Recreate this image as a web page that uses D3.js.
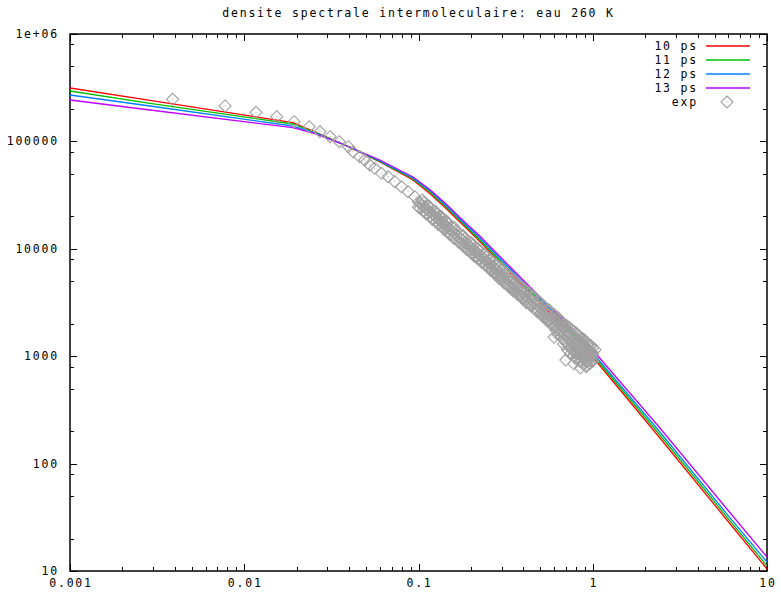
<!DOCTYPE html>
<html>
<head>
<meta charset="utf-8">
<script src="https://cdn.jsdelivr.net/npm/d3@7"></script>
<style>
  body { margin: 0; background: #fff; }
  text { font-family: 'DejaVu Sans Mono', 'Liberation Mono', monospace; font-size: 11.5px; letter-spacing: 1.8px; fill: #000; }
</style>
</head>
<body>
<div id="chart"></div>
<script>
const title = 'densite spectrale intermoleculaire: eau 260 K';

const seriesNames = ['10 ps', '11 ps', '12 ps', '13 ps'];
const seriesColors = ['#ff0000', '#00c000', '#0080ff', '#c000ff'];

// frequency grid shared by the simulated spectra
const freq = [0.001, 0.00288, 0.019, 0.0248, 0.0389, 0.0601, 0.093, 0.117, 0.146, 0.18, 0.225, 0.349, 0.546, 0.845, 1.0, 2.43, 5.89, 10];
const spec10 = [314200, 240900, 149300, 125000, 90600, 64300, 43700, 32370, 23220, 16660, 11700, 5580, 2693, 1327, 983, 173.1, 29.85, 10.44];
const spec11 = [294600, 226300, 145200, 123600, 90600, 65000, 44700, 33440, 23990, 17200, 12080, 5826, 2811, 1385, 1026, 184.6, 31.8, 11.13];
const spec12 = [270400, 213600, 139100, 122300, 90600, 65700, 45600, 34530, 24770, 17760, 12610, 6081, 2934, 1446, 1071, 196.9, 33.9, 12.13];
const spec13 = [242900, 196100, 134100, 119700, 90600, 67100, 46600, 35280, 25570, 18340, 13160, 6346, 3062, 1509, 1142, 214.5, 37.8, 13.5];

// experimental points (one row = same frequency)
const expX = [
  0.00388, 0.00776, 0.01168, 0.01535, 0.0193, 0.0236, 0.0272, 0.0311, 0.0351, 0.0396,
  0.0421, 0.046, 0.0491, 0.0525, 0.0561, 0.0613, 0.0669, 0.0731, 0.0798, 0.0871, 0.0952,
  0.100, 0.100,
  0.105, 0.105,
  0.110, 0.110,
  0.115, 0.115,
  0.120, 0.120,
  0.125, 0.125,
  0.130, 0.130,
  0.135, 0.135,
  0.140, 0.140,
  0.145, 0.145,
  0.150, 0.150,
  0.160, 0.160, 0.160,
  0.170, 0.170,
  0.180, 0.180, 0.180,
  0.190, 0.190,
  0.200, 0.200, 0.200,
  0.210, 0.210,
  0.220, 0.220, 0.220,
  0.230, 0.230,
  0.240, 0.240, 0.240,
  0.250, 0.250,
  0.260, 0.260, 0.260,
  0.270, 0.270,
  0.280, 0.280, 0.280,
  0.300, 0.300, 0.300, 0.300,
  0.320, 0.320, 0.320,
  0.340, 0.340, 0.340,
  0.360, 0.360, 0.360,
  0.380, 0.380, 0.380,
  0.400, 0.400, 0.400,
  0.430, 0.430, 0.430,
  0.460, 0.460, 0.460,
  0.500, 0.500, 0.500,
  0.530, 0.530, 0.530,
  0.560, 0.560, 0.560,
  0.600, 0.600, 0.600, 0.600,
  0.630, 0.630, 0.630, 0.630,
  0.660, 0.660, 0.660, 0.660,
  0.700, 0.700, 0.700, 0.700, 0.700,
  0.730, 0.730, 0.730, 0.730,
  0.760, 0.760, 0.760, 0.760,
  0.780,
  0.800, 0.800, 0.800, 0.800, 0.800,
  0.830, 0.830, 0.830, 0.830,
  0.850,
  0.860, 0.860, 0.860, 0.860, 0.860,
  0.900, 0.900, 0.900, 0.900,
  0.930, 0.930, 0.930, 0.930, 0.930,
  0.960, 0.960, 0.960, 0.960,
  1.000, 1.000, 1.000,
  1.030,
  0.102, 0.102,
  0.107, 0.107, 0.107,
  0.112, 0.112, 0.112,
  0.117, 0.117, 0.117,
  0.122, 0.122, 0.122,
  0.127, 0.127, 0.127,
  0.132, 0.132, 0.132,
  0.137, 0.137, 0.137,
  0.142, 0.142, 0.142,
  0.147, 0.147, 0.147,
  0.155, 0.155, 0.155,
  0.165, 0.165, 0.165,
  0.175, 0.175, 0.175,
  0.185, 0.185, 0.185,
  0.195, 0.195, 0.195,
  0.205, 0.205, 0.205,
  0.215, 0.215, 0.215,
  0.225, 0.225, 0.225,
  0.235, 0.235, 0.235,
  0.245, 0.245, 0.245,
  0.255, 0.255, 0.255,
  0.265, 0.265, 0.265,
  0.275, 0.275, 0.275,
  0.290, 0.290, 0.290, 0.290,
  0.310, 0.310, 0.310, 0.310,
  0.330, 0.330, 0.330, 0.330,
  0.350, 0.350, 0.350, 0.350,
  0.370, 0.370, 0.370, 0.370,
  0.390, 0.390, 0.390, 0.390,
  0.415, 0.415, 0.415, 0.415,
  0.445, 0.445, 0.445, 0.445,
  0.480, 0.480, 0.480, 0.480,
  0.515, 0.515, 0.515, 0.515,
  0.545, 0.545, 0.545, 0.545,
  0.580, 0.580, 0.580, 0.580,
  0.615, 0.615, 0.615, 0.615,
  0.645, 0.645, 0.645, 0.645,
  0.680, 0.680, 0.680, 0.680, 0.680,
  0.715, 0.715, 0.715, 0.715, 0.715,
  0.745, 0.745, 0.745, 0.745, 0.745,
  0.780, 0.780, 0.780, 0.780, 0.780,
  0.815, 0.815, 0.815, 0.815, 0.815,
  0.845, 0.845, 0.845, 0.845, 0.845,
  0.880, 0.880, 0.880, 0.880, 0.880,
  0.915, 0.915, 0.915, 0.915, 0.915,
  0.945, 0.945, 0.945, 0.945,
  0.980, 0.980, 0.980, 0.980
];
const expY = [
  246600, 213800, 186600, 169800, 152500, 137000, 123000, 110600, 99400, 89300,
  80200, 72040, 67110, 60310, 56170, 50470, 46920, 42160, 37860, 34010, 30560,
  27300, 24500,
  25500, 28500,
  23900, 21300,
  22400, 25000,
  21100, 18800,
  19900, 22300,
  18900, 16800,
  17900, 20000,
  17000, 15200,
  16200, 18100,
  15400, 13700,
  14100, 12500, 15800,
  12900, 11500,
  11900, 13300, 10600,
  11000, 9800,
  10300, 11500, 9150,
  9600, 8500,
  9000, 10000, 8000,
  8400, 7500,
  7900, 8900, 7100,
  7500, 6700,
  7100, 7900, 6300,
  6700, 6000,
  6400, 7100, 5700,
  5800, 6500, 5200, 5500,
  5300, 5900, 4700,
  4900, 5400, 4300,
  4500, 5000, 4000,
  4150, 4600, 3700,
  3850, 4300, 3450,
  3500, 3900, 3100,
  3150, 3550, 2800,
  2800, 3150, 2500,
  2600, 2900, 2300,
  2400, 2700, 2150,
  2200, 2450, 1900, 1500,
  2050, 1800, 2300, 1600,
  1900, 1700, 1500, 2100,
  1750, 1550, 1350, 1950, 920,
  1650, 1450, 1250, 1850,
  1550, 1350, 1150, 1750,
  850,
  1450, 1250, 1100, 1650, 950,
  1400, 1200, 1050, 1550,
  780,
  1300, 1150, 1000, 1450, 900,
  1250, 1100, 950, 1400,
  1150, 1050, 900, 1300, 820,
  1100, 1000, 1250, 850,
  1050, 1200, 900,
  1150,
  26600, 23800,
  24800, 27000, 22800,
  23300, 25400, 21200,
  21900, 23900, 20100,
  20600, 22500, 19000,
  19500, 21300, 17900,
  18500, 20200, 17000,
  17500, 19100, 16100,
  16700, 18200, 15300,
  15900, 17300, 14600,
  14700, 16000, 13500,
  13500, 14700, 12400,
  12400, 13500, 11400,
  11500, 12500, 10500,
  10650, 11600, 9800,
  9900, 10800, 9100,
  9300, 10100, 8500,
  8700, 9500, 8000,
  8200, 8900, 7500,
  7700, 8400, 7100,
  7300, 7950, 6700,
  6900, 7550, 6350,
  6550, 7150, 6000,
  6100, 6650, 5600, 5300,
  5550, 6050, 5100, 4800,
  5050, 5500, 4650, 4400,
  4650, 5100, 4300, 4050,
  4300, 4700, 3950, 3750,
  4000, 4350, 3700, 3500,
  3650, 4000, 3350, 3150,
  3300, 3600, 3050, 2900,
  3000, 3250, 2750, 2600,
  2700, 2950, 2500, 2350,
  2500, 2700, 2300, 2150,
  2300, 2500, 2100, 1950,
  2100, 2300, 1900, 1750,
  1950, 2150, 1750, 1600,
  1850, 2000, 1650, 1450, 1300,
  1700, 1900, 1500, 1300, 1150,
  1600, 1800, 1400, 1200, 1050,
  1500, 1700, 1300, 1100, 1000,
  1400, 1600, 1250, 1100, 950,
  1350, 1500, 1200, 1050, 900,
  1250, 1450, 1100, 1000, 850,
  1200, 1350, 1050, 950, 800,
  1150, 1300, 1000, 900,
  1100, 1250, 1000, 900
];

const xTicks = [0.001, 0.01, 0.1, 1, 10];
const xTickLabels = ['0.001', '0.01', '0.1', '1', '10'];
const yTicks = [10, 100, 1000, 10000, 100000, 1000000];
const yTickLabels = ['10', '100', '1000', '10000', '100000', '1e+06'];
const xMinorMult = [2, 3, 4, 5, 6, 7, 8, 9];
const yMinorMult = [2, 5, 8];

const width = 781;
const height = 592;
const plot = { left: 70, right: 767, top: 34, bottom: 571 };

const x = d3.scaleLog().domain([0.001, 10]).range([plot.left, plot.right]);
const y = d3.scaleLog().domain([10, 1000000]).range([plot.bottom, plot.top]);

const svg = d3.select('#chart')
  .append('svg')
  .attr('width', width)
  .attr('height', height);

svg.append('defs')
  .append('clipPath')
  .attr('id', 'clip')
  .append('rect')
  .attr('x', plot.left)
  .attr('y', plot.top)
  .attr('width', plot.right - plot.left)
  .attr('height', plot.bottom - plot.top);

// minor tick values from the decades
function minorValues(majors, mults) {
  const out = [];
  majors.slice(0, -1).forEach(m => mults.forEach(k => out.push(m * k)));
  return out;
}

const ticks = svg.append('g')
  .attr('stroke', '#000')
  .attr('stroke-width', 1)
  .attr('shape-rendering', 'crispEdges');

function drawXTicks(values, len) {
  values.forEach(v => {
    const px = Math.round(x(v)) + 0.5;
    ticks.append('line').attr('x1', px).attr('x2', px).attr('y1', plot.bottom).attr('y2', plot.bottom - len);
    ticks.append('line').attr('x1', px).attr('x2', px).attr('y1', plot.top).attr('y2', plot.top + len);
  });
}
function drawYTicks(values, len) {
  values.forEach(v => {
    const py = Math.round(y(v)) + 0.5;
    ticks.append('line').attr('y1', py).attr('y2', py).attr('x1', plot.left).attr('x2', plot.left + len);
    ticks.append('line').attr('y1', py).attr('y2', py).attr('x1', plot.right).attr('x2', plot.right - len);
  });
}
drawXTicks(xTicks, 7);
drawXTicks(minorValues(xTicks, xMinorMult), 4);
drawYTicks(yTicks, 7);
drawYTicks(minorValues(yTicks, yMinorMult), 4);

// frame
svg.append('rect')
  .attr('x', plot.left)
  .attr('y', plot.top)
  .attr('width', plot.right - plot.left)
  .attr('height', plot.bottom - plot.top)
  .attr('fill', 'none')
  .attr('stroke', '#000')
  .attr('stroke-width', 1.5);

// tick labels
svg.append('g')
  .selectAll('text')
  .data(xTicks)
  .enter()
  .append('text')
  .attr('x', d => x(d) + 1)
  .attr('y', plot.bottom + 12)
  .attr('dy', '0.35em')
  .attr('text-anchor', 'middle')
  .text((d, i) => xTickLabels[i]);

svg.append('g')
  .selectAll('text')
  .data(yTicks)
  .enter()
  .append('text')
  .attr('x', plot.left - 11)
  .attr('y', d => y(d))
  .attr('dy', '0.35em')
  .attr('text-anchor', 'end')
  .text((d, i) => yTickLabels[i]);

svg.append('text')
  .attr('x', (plot.left + plot.right) / 2)
  .attr('y', 13)
  .attr('dy', '0.35em')
  .attr('text-anchor', 'middle')
  .text(title);

// spectra
const series = [spec10, spec11, spec12, spec13];
const line = d3.line()
  .x(d => x(d[0]))
  .y(d => y(d[1]));

const curves = svg.append('g').attr('clip-path', 'url(#clip)');
series.forEach((vals, i) => {
  curves.append('path')
    .datum(freq.map((f, j) => [f, vals[j]]))
    .attr('d', line)
    .attr('fill', 'none')
    .attr('stroke', seriesColors[i])
    .attr('stroke-width', 1.3)
    .attr('stroke-linejoin', 'round');
});

// experimental diamonds
const diamond = 'M0,-6L6,0L0,6L-6,0Z';
const expColor = '#a0a0a0';

function drawDiamond(g, px, py) {
  g.append('path')
    .attr('d', diamond)
    .attr('transform', `translate(${px},${py})`)
    .attr('fill', 'none')
    .attr('stroke', expColor)
    .attr('stroke-width', 1.1);
  g.append('rect')
    .attr('x', px - 0.5)
    .attr('y', py - 0.5)
    .attr('width', 1)
    .attr('height', 1)
    .attr('fill', expColor);
}

const expG = svg.append('g').attr('clip-path', 'url(#clip)');
expX.forEach((f, i) => drawDiamond(expG, x(f), y(expY[i])));

// legend
const legend = svg.append('g');
const legendNames = seriesNames.concat(['exp']);
legendNames.forEach((name, i) => {
  const ly = 46 + 14 * i;
  legend.append('text')
    .attr('x', 698)
    .attr('y', ly)
    .attr('dy', '0.35em')
    .attr('text-anchor', 'end')
    .text(name);
  if (i < seriesNames.length) {
    legend.append('line')
      .attr('x1', 706)
      .attr('x2', 750)
      .attr('y1', ly)
      .attr('y2', ly)
      .attr('stroke', seriesColors[i])
      .attr('stroke-width', 1.3);
  } else {
    drawDiamond(legend, 727, ly);
  }
});
</script>
</body>
</html>
